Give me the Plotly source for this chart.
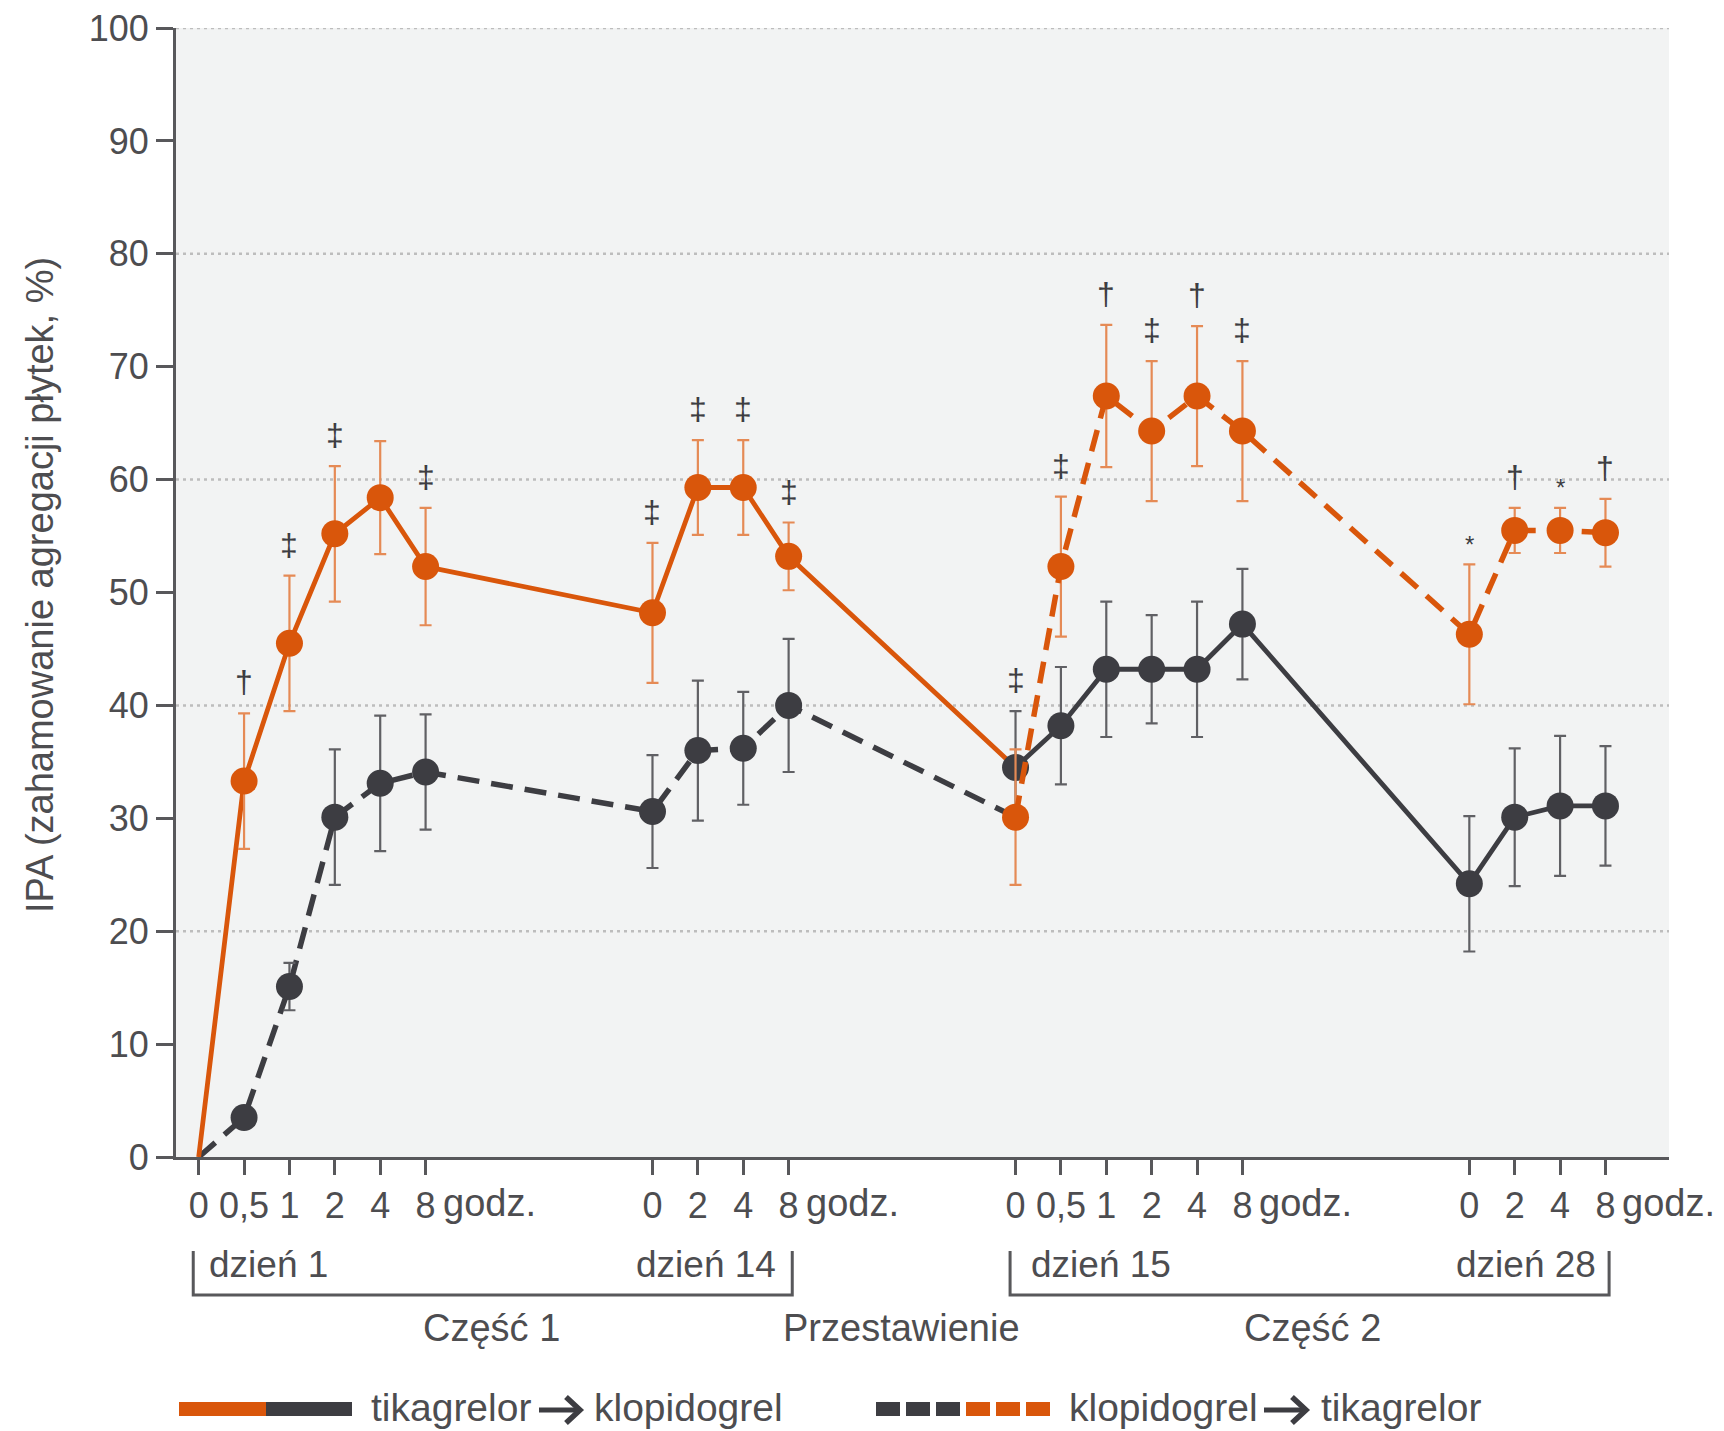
import plotly.graph_objects as go

# ---- data -------------------------------------------------------------
# hour labels on the x axis (four sampling days)
HOUR_LABELS = ["0", "0,5", "1", "2", "4", "8",
               "0", "2", "4", "8",
               "0", "0,5", "1", "2", "4", "8",
               "0", "2", "4", "8"]
# positions of the sampling points along the x axis (gaps between days)
X_POS = [0, 1, 2, 3, 4, 5,
         10, 11, 12, 13,
         18, 19, 20, 21, 22, 23,
         28, 29, 30, 31]
UNIT = "godz."

# tikagrelor -> klopidogrel (solid line), IPA %
TIK_KLO = [0, 33.3, 45.5, 55.2, 58.4, 52.3,
           48.2, 59.3, 59.3, 53.2,
           34.5, 38.2, 43.2, 43.2, 43.2, 47.2,
           24.2, 30.1, 31.1, 31.1]
TIK_KLO_SD = [0, 6.0, 6.0, 6.0, 5.0, 5.2,
              6.2, 4.2, 4.2, 3.0,
              5.0, 5.2, 6.0, 4.8, 6.0, 4.9,
              6.0, 6.1, 6.2, 5.3]

# klopidogrel -> tikagrelor (dashed line), IPA %
KLO_TIK = [0, 3.5, 15.1, 30.1, 33.1, 34.1,
           30.6, 36.0, 36.2, 40.0,
           30.1, 52.3, 67.4, 64.3, 67.4, 64.3,
           46.3, 55.5, 55.5, 55.3]
KLO_TIK_SD = [0, 0.8, 2.1, 6.0, 6.0, 5.1,
              5.0, 6.2, 5.0, 5.9,
              6.0, 6.2, 6.3, 6.2, 6.2, 6.2,
              6.2, 2.0, 2.0, 3.0]

# significance marks above each sampling point
SIGNIF = ["", "†", "‡", "‡", "", "‡",
          "‡", "‡", "‡", "‡",
          "‡", "‡", "†", "‡", "†", "‡",
          "*", "†", "*", "†"]

GRID_LEVELS = [20, 40, 60, 80, 100]
SWITCH = 10  # first sample of part 2 (day 15, hour 0)

# ---- style ------------------------------------------------------------
W, H = 1724, 1431
ML, MR, MT, MB = 176, 55, 28, 274
PW, PH = W - ML - MR, H - MT - MB
BOTTOM = H - MB

ORANGE = "#D9560B"
ORANGE_ERR = "#E58A55"
DARK = "#3D3D42"
DARK_ERR = "#606064"
AXIS = "#58585B"
TEXT = "#4D4D50"
FONT = "Liberation Sans, Arial, Helvetica, sans-serif"
MSIZE = 27
LW = 4.8
DLW = 5.5
DASH = "22px,12px"


def px_x(X):
    return (X - ML) / PW


def px_y(Y):
    return (BOTTOM - Y) / PH


fig = go.Figure()


def line_trace(xs, ys, color, dash, width):
    fig.add_trace(go.Scatter(x=xs, y=ys, mode="lines",
                             line=dict(color=color, width=width, dash=dash),
                             hoverinfo="skip", showlegend=False))


def marker_trace(xs, ys, errs, color, errcolor, mode="markers", dash="solid", width=LW):
    fig.add_trace(go.Scatter(
        x=xs, y=ys, mode=mode,
        line=dict(color=color, width=width, dash=dash),
        marker=dict(size=MSIZE, color=color),
        error_y=dict(type="data", array=errs, visible=True,
                     color=errcolor, thickness=2.2, width=6),
        showlegend=False))


# part 1: klopidogrel (dark dashed) and tikagrelor (orange solid)
line_trace(X_POS[:SWITCH + 1], KLO_TIK[:SWITCH + 1], DARK, DASH, DLW)
marker_trace(X_POS[1:SWITCH], KLO_TIK[1:SWITCH], KLO_TIK_SD[1:SWITCH], DARK, DARK_ERR)
line_trace(X_POS[:SWITCH + 1], TIK_KLO[:SWITCH + 1], ORANGE, "solid", LW)
marker_trace(X_POS[1:SWITCH], TIK_KLO[1:SWITCH], TIK_KLO_SD[1:SWITCH], ORANGE, ORANGE_ERR)

# part 2: after the switch the colours swap
marker_trace(X_POS[SWITCH:], TIK_KLO[SWITCH:], TIK_KLO_SD[SWITCH:], DARK, DARK_ERR,
             mode="lines+markers", dash="solid", width=LW)
marker_trace(X_POS[SWITCH:], KLO_TIK[SWITCH:], KLO_TIK_SD[SWITCH:], ORANGE, ORANGE_ERR,
             mode="lines+markers", dash=DASH, width=DLW)

shapes = []
annotations = []

# dotted horizontal grid
for lvl in GRID_LEVELS:
    shapes.append(dict(type="line", xref="paper", yref="y", x0=0, x1=1, y0=lvl, y1=lvl,
                       line=dict(color="#BDBDBD", width=2.5, dash="3px,4px"), layer="below"))

# significance symbols above the upper error bar
for x, a, sa, b, sb, s in zip(X_POS, TIK_KLO, TIK_KLO_SD, KLO_TIK, KLO_TIK_SD, SIGNIF):
    if not s:
        continue
    top = max(a + sa, b + sb)
    star = s == "*"
    annotations.append(dict(x=x, y=top, xref="x", yref="y", text=s, showarrow=False,
                            yanchor="middle", yshift=20 if star else 31,
                            font=dict(family=FONT, size=24 if star else 32, color=DARK)))

# "godz." after the last hour of each day
day_ends = [i for i in range(len(X_POS)) if i == len(X_POS) - 1 or X_POS[i + 1] - X_POS[i] > 1]
for i in day_ends:
    annotations.append(dict(x=X_POS[i], y=0, xref="x", yref="paper", text=UNIT,
                            showarrow=False, xanchor="left", yanchor="middle",
                            xshift=15, yshift=-46,
                            font=dict(family=FONT, size=38, color=TEXT)))

# brackets grouping the days of each part
BR_TOP, BR_BOT = 1251, 1295
for first, last in [(0, 9), (10, 19)]:
    x0, x1 = X_POS[first] - 0.12, X_POS[last] + 0.08
    yb, yt = px_y(BR_BOT), px_y(BR_TOP)
    shapes.append(dict(type="path", xref="x", yref="paper",
                       path=f"M {x0},{yt} L {x0},{yb} L {x1},{yb} L {x1},{yt}",
                       line=dict(color=AXIS, width=3)))


def text(X, Y, s, anchor="center", size=37, color=TEXT):
    annotations.append(dict(x=px_x(X), y=px_y(Y), xref="paper", yref="paper", text=s,
                            showarrow=False, xanchor=anchor, yanchor="middle",
                            font=dict(family=FONT, size=size, color=color)))


text(207, 1264, "dzień 1", "left")
text(778, 1264, "dzień 14", "right")
text(1029, 1264, "dzień 15", "left")
text(1598, 1264, "dzień 28", "right")
text(491, 1328, "Część 1", size=38)
text(901, 1328, "Przestawienie", size=38)
text(1312, 1328, "Część 2", size=38)

# y axis title
annotations.append(dict(x=px_x(40), y=px_y(585), xref="paper", yref="paper",
                        text="IPA (zahamowanie agregacji płytek, %)", textangle=-90,
                        showarrow=False, xanchor="center", yanchor="middle",
                        font=dict(family=FONT, size=38, color=TEXT)))

# legend keys
LEG_Y0, LEG_Y1 = 1402, 1416
LEG_YC = 1409
shapes.append(dict(type="rect", xref="paper", yref="paper", x0=px_x(179), x1=px_x(266),
                   y0=px_y(LEG_Y1), y1=px_y(LEG_Y0), fillcolor=ORANGE, line=dict(width=0)))
shapes.append(dict(type="rect", xref="paper", yref="paper", x0=px_x(266), x1=px_x(352),
                   y0=px_y(LEG_Y1), y1=px_y(LEG_Y0), fillcolor=DARK, line=dict(width=0)))
for k in range(6):
    x0 = 876 + k * 30
    shapes.append(dict(type="rect", xref="paper", yref="paper", x0=px_x(x0), x1=px_x(x0 + 24),
                       y0=px_y(LEG_Y1), y1=px_y(LEG_Y0),
                       fillcolor=DARK if k < 3 else ORANGE, line=dict(width=0)))


def arrow(X0, X1, Y):
    # heavy right-pointing arrow between the two drug names
    shapes.append(dict(type="line", xref="paper", yref="paper",
                       x0=px_x(X0), x1=px_x(X1 - 3), y0=px_y(Y), y1=px_y(Y),
                       line=dict(color=DARK, width=5)))
    shapes.append(dict(type="path", xref="paper", yref="paper",
                       path=(f"M {px_x(X1 - 14)},{px_y(Y - 13)} L {px_x(X1)},{px_y(Y)} "
                             f"L {px_x(X1 - 14)},{px_y(Y + 13)}"),
                       line=dict(color=DARK, width=5.5)))


text(369, 1407, "tikagrelor", "left", size=39)
arrow(539, 580, LEG_YC + 1)
text(592, 1407, "klopidogrel", "left", size=39)
text(1067, 1407, "klopidogrel", "left", size=39)
arrow(1264, 1306, LEG_YC + 1)
text(1319, 1407, "tikagrelor", "left", size=39)

fig.update_layout(
    width=W, height=H,
    margin=dict(l=ML, r=MR, t=MT, b=MB, autoexpand=False),
    paper_bgcolor="white", plot_bgcolor="#F2F3F3",
    font=dict(family=FONT, color=TEXT),
    shapes=shapes, annotations=annotations,
    showlegend=False,
    xaxis=dict(range=[-0.5, 32.4], tickvals=X_POS, ticktext=HOUR_LABELS,
               ticks="outside", ticklen=15, tickwidth=3, tickcolor=AXIS,
               showline=True, linewidth=3, linecolor=AXIS,
               showgrid=False, zeroline=False,
               tickfont=dict(family=FONT, size=36, color=TEXT)),
    yaxis=dict(range=[0, 100], tick0=0, dtick=10,
               ticks="outside", ticklen=17, tickwidth=3, tickcolor=AXIS,
               showline=True, linewidth=3, linecolor=AXIS,
               showgrid=False, zeroline=False,
               tickfont=dict(family=FONT, size=36, color=TEXT)),
)

fig.write_html("out.html")
